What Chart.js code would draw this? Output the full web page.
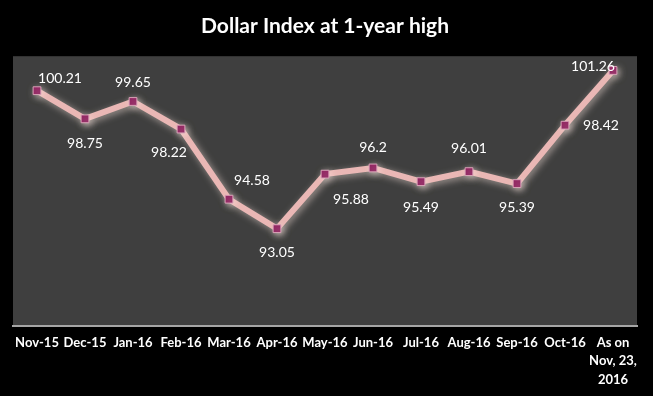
<!DOCTYPE html>
<html>
<head>
<meta charset="utf-8">
<script src="https://cdn.jsdelivr.net/npm/chart.js@4/dist/chart.umd.min.js"></script>
<style>
  html, body { margin: 0; padding: 0; background: #000; }
  #wrap { width: 653px; height: 396px; }
</style>
</head>
<body>
<div id="wrap"><canvas id="chart-line"></canvas></div>
<script>
var months = ["Nov-15", "Dec-15", "Jan-16", "Feb-16", "Mar-16", "Apr-16", "May-16",
              "Jun-16", "Jul-16", "Aug-16", "Sep-16", "Oct-16", ["As on", "Nov, 23,", "2016"]];
var dollarIndex = [100.21, 98.75, 99.65, 98.22, 94.58, 93.05, 95.88, 96.2, 95.49, 96.01, 95.39, 98.42, 101.26];

// where each value label sits relative to its point (x, y in px)
var labelOffsets = [[23, -12], [0, 25], [0, -19], [-12, 23], [23, -19], [0, 24], [26, 25],
                    [0, -20], [0, 26], [0, -23], [0, 24], [36, 0], [-20, -4]];

// dark grey plot area
var plotBg = {
    id: 'plotBg',
    beforeDraw: function(chart) {
        var a = chart.chartArea, ctx = chart.ctx;
        ctx.save();
        ctx.fillStyle = '#3f3f3f';
        ctx.fillRect(a.left, a.top, a.right - a.left, a.bottom - a.top);
        ctx.restore();
    }
};

// soft glow behind the line like the spreadsheet one
var glow = {
    id: 'glow',
    beforeDatasetsDraw: function(chart) {
        var ctx = chart.ctx;
        ctx.save();
        ctx.shadowColor = 'rgba(255, 235, 225, 0.55)';
        ctx.shadowBlur = 7;
        ctx.shadowOffsetX = 2;
        ctx.shadowOffsetY = 2;
    },
    afterDatasetsDraw: function(chart) {
        chart.ctx.restore();
    }
};

var valueLabels = {
    id: 'valueLabels',
    afterDatasetsDraw: function(chart) {
        var ctx = chart.ctx;
        var pts = chart.getDatasetMeta(0).data;
        ctx.save();
        ctx.fillStyle = '#ffffff';
        ctx.font = '14px Lato, "Open Sans", sans-serif';
        ctx.textAlign = 'center';
        ctx.textBaseline = 'middle';
        pts.forEach(function(p, i) {
            ctx.fillText(String(dollarIndex[i]), p.x + labelOffsets[i][0], p.y + labelOffsets[i][1]);
        });
        ctx.restore();
    }
};

var ctx = document.getElementById('chart-line');
var myLineChart = new Chart(ctx, {
    type: 'line',
    data: {
        labels: months,
        datasets: [{
            data: dollarIndex,
            borderColor: '#eab7b5',
            borderWidth: 6,
            tension: 0,
            pointStyle: 'rect',
            pointRadius: 5.5,
            pointBackgroundColor: '#8c1d5c',
            pointBorderColor: '#d9a3b8',
            pointBorderWidth: 1
        }]
    },
    options: {
        responsive: true,
        maintainAspectRatio: false,
        animation: false,
        layout: { padding: { left: 13, right: 16, top: 0, bottom: 0 } },
        plugins: {
            legend: { display: false },
            tooltip: { enabled: false },
            title: {
                display: true,
                text: 'Dollar Index at 1-year high',
                color: '#ffffff',
                font: { family: 'Lato, "Open Sans", sans-serif', size: 21, weight: 'bold' },
                padding: { top: 14, bottom: 17 }
            }
        },
        scales: {
            x: {
                offset: true,
                grid: { display: false, drawTicks: false },
                border: { display: true, color: '#a6a6a6', width: 2 },
                ticks: {
                    color: '#ffffff',
                    maxRotation: 0,
                    autoSkip: false,
                    padding: 8,
                    font: { family: 'Lato, "Open Sans", sans-serif', size: 13, weight: 'bold', lineHeight: 1.4 }
                },
                afterFit: function(scale) { scale.height = 70; }
            },
            y: {
                display: false,
                min: 88,
                max: 102
            }
        }
    },
    plugins: [plotBg, glow, valueLabels]
});
</script>
</body>
</html>
